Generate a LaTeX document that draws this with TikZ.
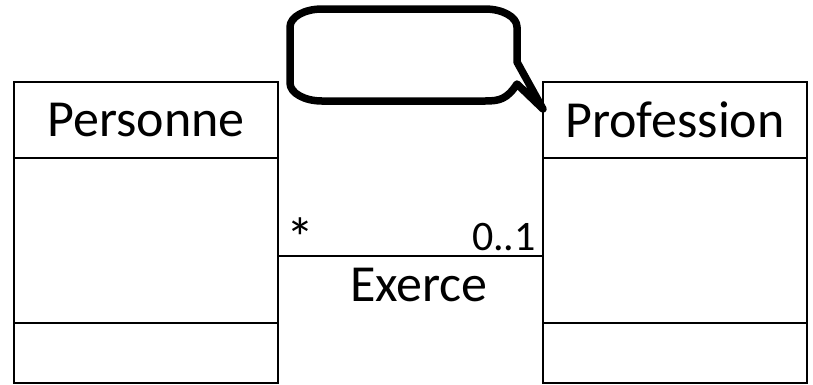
\documentclass[tikz,border=0pt]{standalone}
\usepackage{fontspec}
\setmainfont{Carlito}
\usetikzlibrary{positioning}

\begin{document}
\begin{tikzpicture}[x=1pt,y=1pt,
classe/.style={draw,line width=1.6pt,minimum width=264pt,inner sep=0pt,outer sep=0pt,font=\fontsize{52}{62}\selectfont},
entete/.style={classe,minimum height=76pt},
attrib/.style={classe,minimum height=165pt},
methodes/.style={classe,minimum height=60pt},
lien/.style={line width=1.6pt},
mult/.style={inner sep=0pt,font=\fontsize{42}{50}\selectfont},
bulle/.style={line width=7.5pt,line join=round}
]
\useasboundingbox (0,0) rectangle (813,-384);
%-- classe Personne
\node[entete](pentete) at (146,-120){Personne};
\node[attrib,below=0pt of pentete](pattrib){};
\node[methodes,below=0pt of pattrib](pmeth){};
%-- classe Profession
\node[entete](rentete) at (675,-120){Profession};
\node[attrib,below=0pt of rentete](rattrib){};
\node[methodes,below=0pt of rattrib](rmeth){};
%-- association
\draw[lien] ([yshift=-15.5pt]pattrib.east) coordinate (ga) -- node[anchor=base,xshift=8.5pt,yshift=-45pt,font=\fontsize{52}{62}\selectfont,inner sep=0pt](exerce){Exerce} ([yshift=-15.5pt]rattrib.west) coordinate (dr);
\node[mult,anchor=base west,font=\fontsize{56}{60}\selectfont](etoile) at ([xshift=8pt,yshift=-1pt]ga){*};
\node[mult,anchor=base east](card) at ([xshift=-7pt,yshift=6pt]dr){0..1};
%-- bulle
\coordinate (pointe) at ([yshift=-27pt]rentete.north west);
\draw[bulle] (517,-62) -- (pointe) -- (517,-84) .. controls (507,-99) and (500,-101) .. (485,-101)
  -- (322,-101) arc[start angle=270,end angle=180,x radius=32,y radius=18]
  -- (290,-27) arc[start angle=180,end angle=90,x radius=32,y radius=18]
  -- (485,-9) arc[start angle=90,end angle=0,x radius=32,y radius=18] -- cycle;
\end{tikzpicture}
\end{document}
